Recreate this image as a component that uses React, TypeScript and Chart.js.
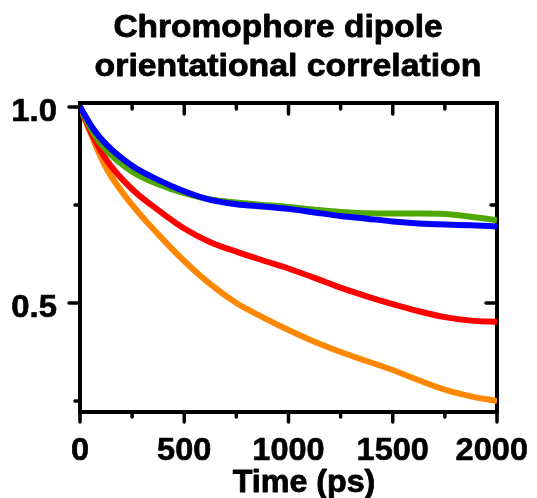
import React, { useEffect, useRef } from "react";
import { Chart, registerables } from "chart.js";

Chart.register(...registerables);

const TITLE_LINES = ["Chromophore dipole", "orientational correlation"];
const X_TITLE = "Time (ps)";

const TIMES = [0, 62.5, 125, 250, 375, 500, 625, 750, 875, 1000, 1125, 1250, 1375, 1500, 1625, 1750, 1875, 2000];

const BLUE = [1.0, 0.945, 0.905, 0.85, 0.814, 0.785, 0.763, 0.752, 0.746, 0.74, 0.731, 0.722, 0.715, 0.708, 0.703, 0.7, 0.698, 0.695];
const GREEN = [1.0, 0.935, 0.89, 0.835, 0.803, 0.78, 0.764, 0.756, 0.75, 0.745, 0.738, 0.732, 0.729, 0.728, 0.728, 0.727, 0.72, 0.711];
const RED = [1.0, 0.925, 0.866, 0.79, 0.737, 0.69, 0.655, 0.631, 0.609, 0.588, 0.564, 0.539, 0.517, 0.497, 0.479, 0.464, 0.455, 0.452];
const ORANGE = [1.0, 0.918, 0.845, 0.75, 0.675, 0.607, 0.548, 0.5, 0.464, 0.431, 0.401, 0.375, 0.352, 0.329, 0.303, 0.279, 0.262, 0.25];

const X_TICKS = [0, 250, 500, 750, 1000, 1250, 1500, 1750, 2000];
const X_LABELED = [0, 500, 1000, 1500, 2000];
const Y_TICKS = [0.25, 0.5, 0.75, 1.0];
const Y_LABELED = [0.5, 1.0];

const FONT_FAMILY = '"Liberation Sans", Arial, Helvetica, sans-serif';

const drawScaled = (
  ctx: CanvasRenderingContext2D,
  text: string,
  x: number,
  by: number,
  size: number,
  sx: number,
  align: CanvasTextAlign,
  stroke: number,
  maxRight?: number
) => {
  ctx.save();
  ctx.font = `bold ${size}px ${FONT_FAMILY}`;
  ctx.fillStyle = "#000";
  ctx.strokeStyle = "#000";
  ctx.lineWidth = stroke;
  ctx.lineJoin = "round";
  ctx.textAlign = align;
  ctx.textBaseline = "alphabetic";
  let cx = x;
  if (maxRight !== undefined && align === "center") {
    const half = (ctx.measureText(text).width * sx) / 2;
    cx = Math.min(x, maxRight - half);
  }
  ctx.translate(cx, by);
  ctx.scale(sx, 1);
  ctx.fillText(text, 0, 0);
  if (stroke > 0) ctx.strokeText(text, 0, 0);
  ctx.restore();
};

const framePlugin = {
  id: "frameTicks",
  beforeDatasetsDraw(chart: any) {
    const { ctx, chartArea: ca, scales } = chart;
    const xs = scales.x;
    const ys = scales.y;
    ctx.save();
    ctx.strokeStyle = "#000";
    ctx.lineWidth = 4;
    ctx.strokeRect(ca.left, ca.top, ca.right - ca.left, ca.bottom - ca.top);
    const line = (x1: number, y1: number, x2: number, y2: number) => {
      ctx.beginPath();
      ctx.moveTo(x1, y1);
      ctx.lineTo(x2, y2);
      ctx.stroke();
    };
    ctx.lineCap = "round";
    ctx.lineWidth = 3.5;
    for (const v of X_TICKS) {
      const px = xs.getPixelForValue(v);
      const major = X_LABELED.includes(v);
      line(px, ca.bottom, px, ca.bottom + (major ? 10 : 5));
      if (v > 0 && v < 2000) line(px, ca.top, px, ca.top + (major ? 11 : 6));
    }
    for (const v of Y_TICKS) {
      const py = ys.getPixelForValue(v);
      const major = Y_LABELED.includes(v);
      line(ca.left - (major ? 11 : 5), py, ca.left, py);
      if (v < 1.0) line(ca.right - (major ? 11 : 6), py, ca.right, py);
    }
    ctx.restore();
  },
  afterDraw(chart: any) {
    const { ctx, chartArea: ca, scales, width } = chart;
    const xs = scales.x;
    const ys = scales.y;
    for (const v of X_LABELED) {
      drawScaled(ctx, String(v), xs.getPixelForValue(v), ca.bottom + 48, 31, 1.05, "center", 0.6, width - 1);
    }
    for (const v of Y_LABELED) {
      drawScaled(ctx, v.toFixed(1), ca.left - 23, ys.getPixelForValue(v) + 14.5, 31, 1.06, "right", 0.6);
    }
    drawScaled(ctx, TITLE_LINES[0], 278 - 8, 37 - 8, 31, 1.08, "center", 0.8);
    drawScaled(ctx, TITLE_LINES[1], 288 - 8, 76 - 8, 31, 1.09, "center", 0.8);
    drawScaled(ctx, X_TITLE, 304 - 8, 492 - 8, 31, 1.04, "center", 0.8);
  },
};

export default function App() {
  const ref = useRef<HTMLCanvasElement | null>(null);
  useEffect(() => {
    document.body.style.overflow = "hidden";
    if (!ref.current) return;
    const mk = (data: number[], color: string) => ({
      data: TIMES.map((t, i) => ({ x: t, y: data[i] })),
      borderColor: color,
      backgroundColor: color,
      borderWidth: 6,
      pointRadius: 0,
      fill: false,
      cubicInterpolationMode: "monotone" as const,
    });
    const chart = new Chart(ref.current, {
      type: "line",
      data: {
        datasets: [
          mk(BLUE, "#0000ff"),
          mk(GREEN, "#4fa800"),
          mk(RED, "#ff0000"),
          mk(ORANGE, "#ff8800"),
        ],
      },
      options: {
        animation: false,
        responsive: true,
        maintainAspectRatio: false,
        layout: { padding: { top: 95, left: 0, right: 32, bottom: 0 } },
        plugins: { legend: { display: false }, tooltip: { enabled: false }, title: { display: false } },
        scales: {
          x: {
            type: "linear",
            min: 0,
            max: 2000,
            grid: { display: false, drawTicks: false },
            border: { display: false },
            afterBuildTicks: (s: any) => {
              s.ticks = X_TICKS.map((v) => ({ value: v }));
            },
            afterFit: (s: any) => {
              s.height = 86;
              s.paddingLeft = 0;
              s.paddingRight = 0;
            },
            ticks: { display: false },
          },
          y: {
            type: "linear",
            min: 0.222,
            max: 1.01,
            grid: { display: false, drawTicks: false },
            border: { display: false },
            afterBuildTicks: (s: any) => {
              s.ticks = Y_TICKS.map((v) => ({ value: v }));
            },
            afterFit: (s: any) => {
              s.width = 72;
              s.paddingTop = 0;
              s.paddingBottom = 0;
            },
            ticks: { display: false },
          },
        },
      },
      plugins: [framePlugin],
    } as any);
    return () => chart.destroy();
  }, []);
  return (
    <div style={{ position: "relative", width: 521, height: 490 }}>
      <canvas ref={ref} />
    </div>
  );
}
